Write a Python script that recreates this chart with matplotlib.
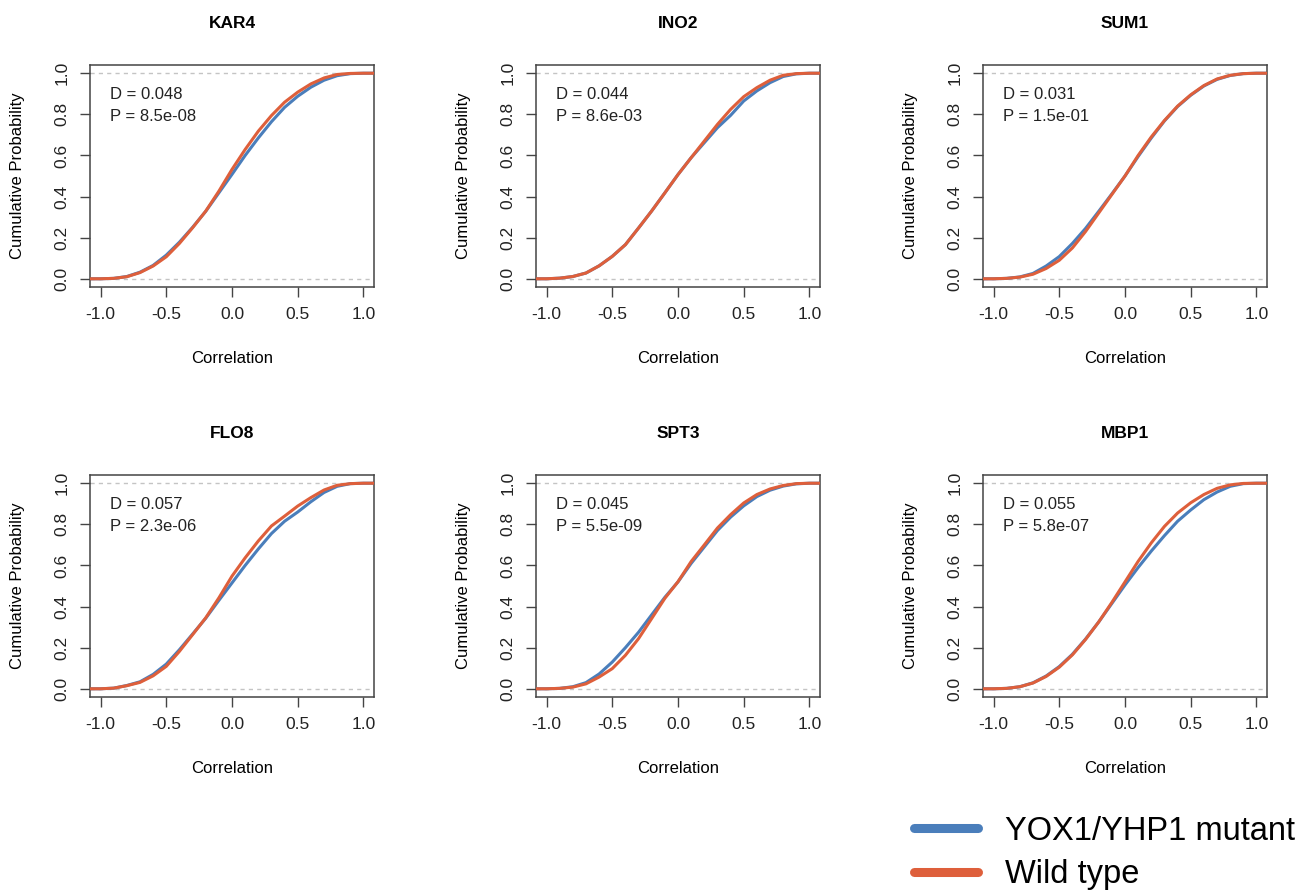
import numpy as np
import matplotlib.pyplot as plt
from matplotlib.lines import Line2D

plt.rcParams['font.family'] = ['Liberation Sans', 'DejaVu Sans']

# correlation grid where the cumulative curves were read
corr = [-1.1, -1.0, -0.9, -0.8, -0.7, -0.6, -0.5, -0.4, -0.3, -0.2, -0.1, 0.0,
        0.1, 0.2, 0.3, 0.4, 0.5, 0.6, 0.7, 0.8, 0.9, 1.0, 1.1]

genes = ['KAR4', 'INO2', 'SUM1', 'FLO8', 'SPT3', 'MBP1']
d_stat = ['0.048', '0.044', '0.031', '0.057', '0.045', '0.055']
p_val = ['8.5e-08', '8.6e-03', '1.5e-01', '2.3e-06', '5.5e-09', '5.8e-07']

# YOX1/YHP1 mutant
mut_kar4 = [0, 0, 0.002, 0.011, 0.032, 0.065, 0.115, 0.178, 0.25, 0.328, 0.418, 0.508,
            0.6, 0.685, 0.764, 0.834, 0.888, 0.932, 0.966, 0.988, 0.998, 1, 1]
mut_ino2 = [0, 0, 0.003, 0.011, 0.028, 0.063, 0.109, 0.166, 0.247, 0.33, 0.418, 0.507,
            0.589, 0.662, 0.735, 0.795, 0.865, 0.914, 0.954, 0.984, 0.997, 1, 1]
mut_sum1 = [0, 0, 0.002, 0.009, 0.026, 0.062, 0.108, 0.172, 0.245, 0.328, 0.413, 0.5,
            0.595, 0.685, 0.768, 0.838, 0.893, 0.938, 0.97, 0.989, 0.998, 1, 1]
mut_flo8 = [0, 0, 0.003, 0.016, 0.034, 0.07, 0.12, 0.19, 0.266, 0.343, 0.43, 0.515,
            0.6, 0.68, 0.755, 0.815, 0.86, 0.91, 0.955, 0.985, 0.998, 1, 1]
mut_spt3 = [0, 0, 0.002, 0.01, 0.03, 0.072, 0.13, 0.2, 0.275, 0.36, 0.445, 0.52,
            0.61, 0.69, 0.77, 0.835, 0.89, 0.935, 0.966, 0.986, 0.997, 1, 1]
mut_mbp1 = [0, 0, 0.002, 0.01, 0.029, 0.062, 0.108, 0.168, 0.242, 0.325, 0.415, 0.505,
            0.59, 0.67, 0.745, 0.815, 0.87, 0.92, 0.957, 0.985, 0.998, 1, 1]

# Wild type
wt_kar4 = [0, 0, 0.002, 0.01, 0.03, 0.062, 0.107, 0.172, 0.248, 0.329, 0.426, 0.532,
           0.629, 0.718, 0.794, 0.859, 0.908, 0.948, 0.977, 0.994, 0.999, 1, 1]
wt_ino2 = [0, 0, 0.003, 0.011, 0.028, 0.063, 0.109, 0.166, 0.247, 0.33, 0.418, 0.507,
           0.589, 0.67, 0.751, 0.824, 0.886, 0.93, 0.966, 0.99, 0.998, 1, 1]
wt_sum1 = [0, 0, 0.002, 0.008, 0.022, 0.05, 0.09, 0.15, 0.23, 0.32, 0.41, 0.5,
           0.6, 0.69, 0.77, 0.84, 0.895, 0.94, 0.972, 0.99, 0.998, 1, 1]
wt_flo8 = [0, 0, 0.003, 0.015, 0.031, 0.063, 0.109, 0.182, 0.263, 0.345, 0.442, 0.548,
           0.637, 0.719, 0.792, 0.84, 0.889, 0.93, 0.967, 0.99, 0.998, 1, 1]
wt_spt3 = [0, 0, 0.002, 0.008, 0.024, 0.057, 0.098, 0.163, 0.244, 0.342, 0.44, 0.521,
           0.619, 0.7, 0.782, 0.847, 0.904, 0.945, 0.972, 0.989, 0.998, 1, 1]
wt_mbp1 = [0, 0, 0.002, 0.01, 0.028, 0.06, 0.105, 0.165, 0.24, 0.325, 0.42, 0.52,
           0.62, 0.71, 0.79, 0.855, 0.905, 0.945, 0.975, 0.992, 0.999, 1, 1]

mutant = [mut_kar4, mut_ino2, mut_sum1, mut_flo8, mut_spt3, mut_mbp1]
wildtype = [wt_kar4, wt_ino2, wt_sum1, wt_flo8, wt_spt3, wt_mbp1]

blue = '#4a7ebb'
red = '#de5f3b'
box = '#444444'

W, H = 1306, 893
fig = plt.figure(figsize=(W / 100, H / 100), dpi=100)

lefts = [90, 536, 983]
tops = [65, 475]
aw, ah = 284, 222

for i, gene in enumerate(genes):
    row, col = divmod(i, 3)
    ax = fig.add_axes([lefts[col] / W, 1 - (tops[row] + ah) / H, aw / W, ah / H])

    ax.axhline(0, color='#c4c4c4', lw=1, ls=(0, (3, 3)), zorder=1)
    ax.axhline(1, color='#c4c4c4', lw=1, ls=(0, (3, 3)), zorder=1)
    ax.plot(corr, mutant[i], color=blue, lw=2.2, zorder=2)
    ax.plot(corr, wildtype[i], color=red, lw=2.2, zorder=3)

    ax.set_xlim(-1.08, 1.08)
    ax.set_ylim(-0.04, 1.04)
    ax.set_xticks([-1.0, -0.5, 0.0, 0.5, 1.0])
    ax.set_xticklabels(['-1.0', '-0.5', '0.0', '0.5', '1.0'])
    ax.set_yticks([0.0, 0.2, 0.4, 0.6, 0.8, 1.0])
    ax.set_yticklabels(['0.0', '0.2', '0.4', '0.6', '0.8', '1.0'],
                       rotation=90, va='center')
    ax.tick_params(length=7, width=1, color=box, labelsize=12.5, pad=7.5,
                   labelcolor='#222222')
    for s in ax.spines.values():
        s.set_color(box)
        s.set_linewidth(1.1)

    ax.set_title(gene, fontsize=12.5, fontweight='bold', pad=27)
    ax.set_xlabel('Correlation', fontsize=12)
    ax.set_ylabel('Cumulative Probability', fontsize=12)
    ax.xaxis.set_label_coords(0.5, -0.29)
    ax.yaxis.set_label_coords(-0.23, 0.5)

    ax.text(0.07, 0.865, 'D = ' + d_stat[i], transform=ax.transAxes,
            fontsize=12, va='center', color='#222222')
    ax.text(0.07, 0.77, 'P = ' + p_val[i], transform=ax.transAxes,
            fontsize=12, va='center', color='#222222')

handles = [Line2D([], [], color=blue, lw=6.5, solid_capstyle='round'),
           Line2D([], [], color=red, lw=6.5, solid_capstyle='round')]
fig.legend(handles, ['YOX1/YHP1 mutant', 'Wild type'], loc='center left',
           bbox_to_anchor=(914 / W, 1 - 853 / H), frameon=False, fontsize=23.5,
           handlelength=1.95, handletextpad=0.85, labelspacing=0.38,
           borderpad=0, borderaxespad=0)

plt.savefig('out.png', dpi=100)
